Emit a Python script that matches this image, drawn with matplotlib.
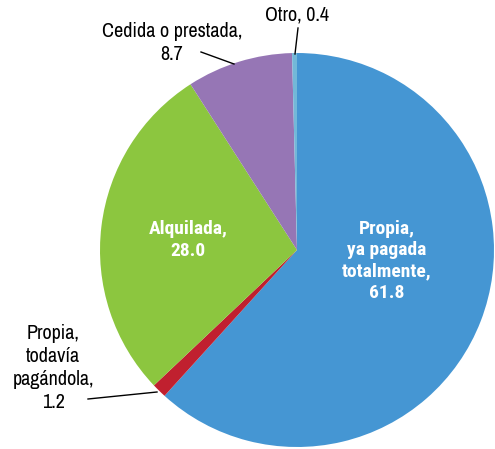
import matplotlib.pyplot as plt

labels = ['Propia,\nya pagada\ntotalmente,', 'Propia,\ntodavía\npagándola,',
          'Alquilada,', 'Cedida o prestada,', 'Otro,']
values = [61.8, 1.2, 28.0, 8.7, 0.4]
colors = ['#4596D3', '#C0202F', '#8CC63F', '#9676B5', '#73B8D8']

plt.rcParams['font.family'] = ['Archivo Narrow', 'DejaVu Sans']
bold_family = ['Roboto Condensed', 'DejaVu Sans']

fig = plt.figure(figsize=(4.95, 4.49), dpi=100)
cx, cy, r = 297, 250, 197
ax = fig.add_axes([(cx - r) / 495, (449 - cy - r) / 449, 2 * r / 495, 2 * r / 449])
ax.pie(values, colors=colors, startangle=90, counterclock=False, radius=1,
       wedgeprops=dict(linewidth=0))
ax.set_xlim(-1, 1)
ax.set_ylim(-1, 1)
ax.set_aspect('equal')
ax.axis('off')


def px(x, y):
    return ((x - cx) / r, (cy - y) / r)


fs = 14.5
# inside labels
ax.text(*px(387, 261), f'{labels[0]}\n{values[0]}', color='white', fontweight='bold',
        family=bold_family, fontsize=fs - 0.5, ha='center', va='center', linespacing=1.25)
ax.text(*px(188, 240), f'{labels[2]}\n{values[2]}', color='white', fontweight='bold',
        family=bold_family, fontsize=fs - 0.5, ha='center', va='center', linespacing=1.25)

# outside labels with leader lines
ax.text(*px(172, 43), f'{labels[3]}\n{values[3]}', fontsize=fs, ha='center',
        va='center', linespacing=1.25, clip_on=False)
ax.plot(*zip(px(201, 52), px(234, 64)), color='black', lw=1, clip_on=False)

ax.text(*px(297, 15), f'{labels[4]} {values[4]}', fontsize=fs, ha='center',
        va='center', clip_on=False)
ax.plot(*zip(px(298, 28), px(295, 54)), color='black', lw=1, clip_on=False)

ax.text(*px(53, 368), f'{labels[1]}\n{values[1]}', fontsize=fs, ha='center',
        va='center', linespacing=1.25, clip_on=False)
ax.plot(*zip(px(88, 399), px(157, 392)), color='black', lw=1, clip_on=False)

fig.savefig('out.png', dpi=100)
